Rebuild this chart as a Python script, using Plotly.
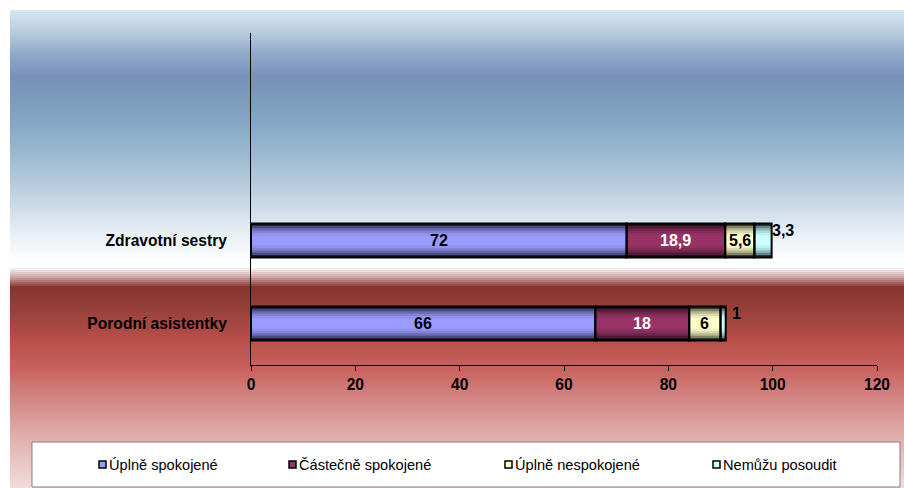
import plotly.graph_objects as go

# ---------------- data ----------------
categories = ["Zdravotní sestry", "Porodní asistentky"]
series_names = ["Úplně spokojené", "Částečně spokojené", "Úplně nespokojené", "Nemůžu posoudit"]
uplne_spokojene = [72, 66]
castecne_spokojene = [18.9, 18]
uplne_nespokojene = [5.6, 6]
nemuzu_posoudit = [3.3, 1]
x_ticks = [0, 20, 40, 60, 80, 100, 120]

series_values = [uplne_spokojene, castecne_spokojene, uplne_nespokojene, nemuzu_posoudit]

# ---------------- styles ----------------
W, H = 904, 488
L, R, T, B = 251, 27, 33, 123
PW, PH = W - L - R, H - T - B

center_cols = ["#9a9aff", "#993366", "#ffffcc", "#ccffff"]
edge_cols = ["#15152a", "#1c0a12", "#2e2e24", "#223030"]
label_cols = ["black", "white", "black", "black"]
FONT = "Liberation Sans, Arial, sans-serif"


def hex2rgb(h):
    h = h.lstrip("#")
    return tuple(int(h[i:i + 2], 16) for i in (0, 2, 4))


def mix(c1, c2, t):
    a, b = hex2rgb(c1), hex2rgb(c2)
    return "rgb(%d,%d,%d)" % tuple(round(a[i] + (b[i] - a[i]) * t) for i in range(3))


def px_x(X):
    return (X - L) / PW


def px_y(Y):
    return (H - B - Y) / PH


fig = go.Figure()

# cumulative starts
starts = []
acc = [0.0] * len(categories)
for vals in series_values:
    starts.append(list(acc))
    acc = [a + v for a, v in zip(acc, vals)]

bar_w = 0.41
layer_f = [1.0, 0.86, 0.72, 0.58, 0.44, 0.3]
layer_t = [0.0, 0.4, 0.65, 0.82, 0.93, 1.0]
for f, t in zip(layer_f, layer_t):
    for i, vals in enumerate(series_values):
        fig.add_trace(go.Bar(
            y=categories, x=vals, base=starts[i], orientation="h",
            width=bar_w * f, marker=dict(color=mix(edge_cols[i], center_cols[i], t), line=dict(width=0)),
            showlegend=False, hoverinfo="skip"))
# outlines on top
for i, vals in enumerate(series_values):
    fig.add_trace(go.Bar(
        y=categories, x=vals, base=starts[i], orientation="h", width=bar_w,
        marker=dict(color="rgba(0,0,0,0)", line=dict(color="black", width=2)),
        name=series_names[i], showlegend=False, hoverinfo="skip"))

# value labels
annotations = []
n = len(series_values)
for i, vals in enumerate(series_values):
    for c, v, s in zip(categories, vals, starts[i]):
        txt = f"{v:g}".replace(".", ",")
        if i < n - 1:
            annotations.append(dict(x=s + v / 2, y=c, xref="x", yref="y", text=txt, showarrow=False,
                                    font=dict(family=FONT, size=16, color=label_cols[i], weight="bold")))
        else:
            annotations.append(dict(x=s + v / 2, y=c, xref="x", yref="y", text=txt, showarrow=False,
                                    xanchor="left", xshift=7, yshift=10,
                                    font=dict(family=FONT, size=16, color="black", weight="bold")))

# background gradient
stops = [(10, "#d8e4ee"), (30, "#bccfe0"), (55, "#8fa8c8"), (77, "#7890b8"), (110, "#80a0c0"),
         (150, "#98b6cf"), (190, "#bccfdf"), (230, "#e4ecf3"), (255, "#fafcfd"), (267, "#ffffff"),
         (270, "#f2e4e4"), (278, "#c89c9a"), (287, "#873330"), (310, "#98403c"), (340, "#b84f4a"),
         (370, "#c86460"), (400, "#d48886"), (430, "#dea8a6"), (460, "#e8c4c2"), (488, "#f0dcdc")]


def grad_col(y):
    for (y0, c0), (y1, c1) in zip(stops[:-1], stops[1:]):
        if y0 <= y <= y1:
            return mix(c0, c1, (y - y0) / (y1 - y0) if y1 > y0 else 0)
    return mix(stops[-1][1], stops[-1][1], 0)


shapes = []
step = 2
for y in range(10, 488, step):
    shapes.append(dict(type="rect", xref="paper", yref="paper", layer="below",
                       x0=px_x(10), x1=px_x(W + 2), y0=px_y(y + step + 0.5), y1=px_y(y),
                       fillcolor=grad_col(y + step / 2), line=dict(width=0)))

# legend box
shapes.append(dict(type="rect", xref="paper", yref="paper", layer="below",
                   x0=px_x(32), x1=px_x(900), y0=px_y(487), y1=px_y(442),
                   fillcolor="white", line=dict(color="#808080", width=1)))
leg_x = [99, 289, 505, 713]
for i, name in enumerate(series_names):
    shapes.append(dict(type="rect", xref="paper", yref="paper", layer="above",
                       x0=px_x(leg_x[i]), x1=px_x(leg_x[i] + 7), y0=px_y(468), y1=px_y(461),
                       fillcolor=center_cols[i], line=dict(color="black", width=1.5)))
    annotations.append(dict(x=px_x(leg_x[i] + 8), y=px_y(465), xref="paper", yref="paper",
                            xanchor="left", yanchor="middle", text=name, showarrow=False,
                            font=dict(family=FONT, size=14.6, color="black")))

fig.update_layout(
    width=W, height=H, margin=dict(l=L, r=R, t=T, b=B, autoexpand=False),
    barmode="overlay", paper_bgcolor="white", plot_bgcolor="rgba(0,0,0,0)",
    showlegend=False, shapes=shapes, annotations=annotations,
    xaxis=dict(range=[0, 120], tickvals=x_ticks, ticktext=[str(v) for v in x_ticks],
               showgrid=False, zeroline=False, showline=True, linecolor="black", linewidth=1,
               ticks="outside", ticklen=5, tickcolor="black", tickwidth=1, ticklabelstandoff=0,
               tickfont=dict(family=FONT, size=15.6, color="black", weight="bold")),
    yaxis=dict(type="category", categoryorder="array", categoryarray=categories[::-1],
               range=[-0.5, 3.5], showgrid=False, zeroline=False, showline=True,
               linecolor="black", linewidth=1, ticks="", ticklabelstandoff=20,
               tickfont=dict(family=FONT, size=15.6, color="black", weight="bold")),
)

fig.write_html("out.html")
